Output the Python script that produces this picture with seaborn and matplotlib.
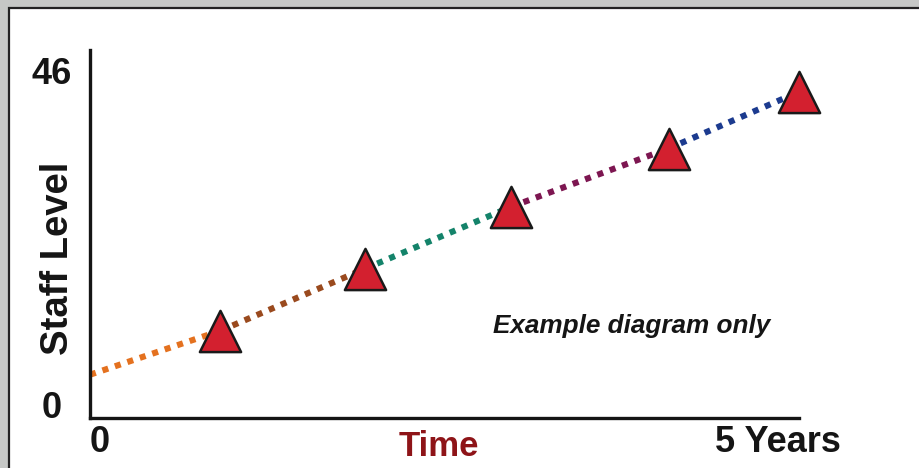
import pandas as pd
import matplotlib.pyplot as plt
import seaborn as sns

# values
years = [0.92, 1.94, 2.97, 4.08, 5.0]          # triangle positions (time, years)
staff = [11.7, 20.0, 28.3, 36.1, 43.7]         # staff level at each triangle
start_x, start_y = 0.0, 5.8                    # where the dotted line starts
seg_names = ["s1", "s2", "s3", "s4", "s5"]
seg_colors = ["#E4711F", "#9A4A1E", "#14836A", "#7D1651", "#1C3B8F"]
y_ticks = [0, 46]
x_max, y_max = 5.0, 49.3

# build the dotted segments between consecutive points
xs = [start_x] + years
ys = [start_y] + staff
rows = []
for i, name in enumerate(seg_names):
    rows.append({"seg": name, "x": xs[i], "y": ys[i]})
    rows.append({"seg": name, "x": xs[i + 1], "y": ys[i + 1]})
segs = pd.DataFrame(rows)
points = pd.DataFrame({"x": years, "y": staff})

sns.set_style("white")
plt.rcParams["font.family"] = ["Liberation Sans", "DejaVu Sans"]
plt.rcParams["font.weight"] = "bold"
plt.rcParams["text.color"] = "#151515"

fig = plt.figure(figsize=(9.2, 4.68), dpi=100)
fig.patch.set_facecolor("#c6c8c6")
# white panel with a thin dark edge on left and top
panel = plt.Rectangle((9 / 920, -0.02), 1.0, 1 - 8 / 468 + 0.02, transform=fig.transFigure,
                      facecolor="white", edgecolor="#222222", linewidth=1.6, zorder=-10)
fig.patches.append(panel)

ax = fig.add_axes([90 / 920, 1 - 418 / 468, (799 - 90) / 920, (418 - 50) / 468])
ax.set_zorder(2)
ax.set_facecolor("none")

sns.lineplot(data=segs, x="x", y="y", hue="seg", hue_order=seg_names, palette=seg_colors,
             estimator=None, sort=False, legend=False, linewidth=4.4, dashes=(1, 1.15),
             ax=ax, zorder=2)
sns.scatterplot(data=points, x="x", y="y", marker="^", s=880, color="#D3202F",
                edgecolor="#1a1a1a", linewidth=1.8, zorder=5, clip_on=False, ax=ax)

ax.set_xlim(0, x_max)
ax.set_ylim(0, y_max)
ax.set_xticks([])
ax.set_yticks([])
ax.set_xlabel("")
ax.set_ylabel("")
for side in ["top", "right"]:
    ax.spines[side].set_visible(False)
for side in ["left", "bottom"]:
    ax.spines[side].set_color("#151515")
    ax.spines[side].set_linewidth(2.4)

# axis labels placed like the slide
fig.text(52 / 920, 1 - 75 / 468, str(y_ticks[1]), ha="center", va="center", fontsize=26)
fig.text(52 / 920, 1 - 409 / 468, str(y_ticks[0]), ha="center", va="center", fontsize=26)
fig.text(100 / 920, 1 - 443 / 468, "0", ha="center", va="center", fontsize=26)
fig.text(778 / 920, 1 - 443 / 468, "5 Years", ha="center", va="center", fontsize=26)
fig.text(439 / 920, 1 - 446 / 468, "Time", ha="center", va="center", fontsize=25,
         color="#8E1418")
fig.text(58 / 920, 1 - 258 / 468, "Staff Level", ha="center", va="center", fontsize=27.5,
         rotation=90)
fig.text(632 / 920, 1 - 326 / 468, "Example diagram only", ha="center", va="center",
         fontsize=18.8, style="italic")

fig.savefig("out.png", dpi=100, facecolor=fig.get_facecolor())
